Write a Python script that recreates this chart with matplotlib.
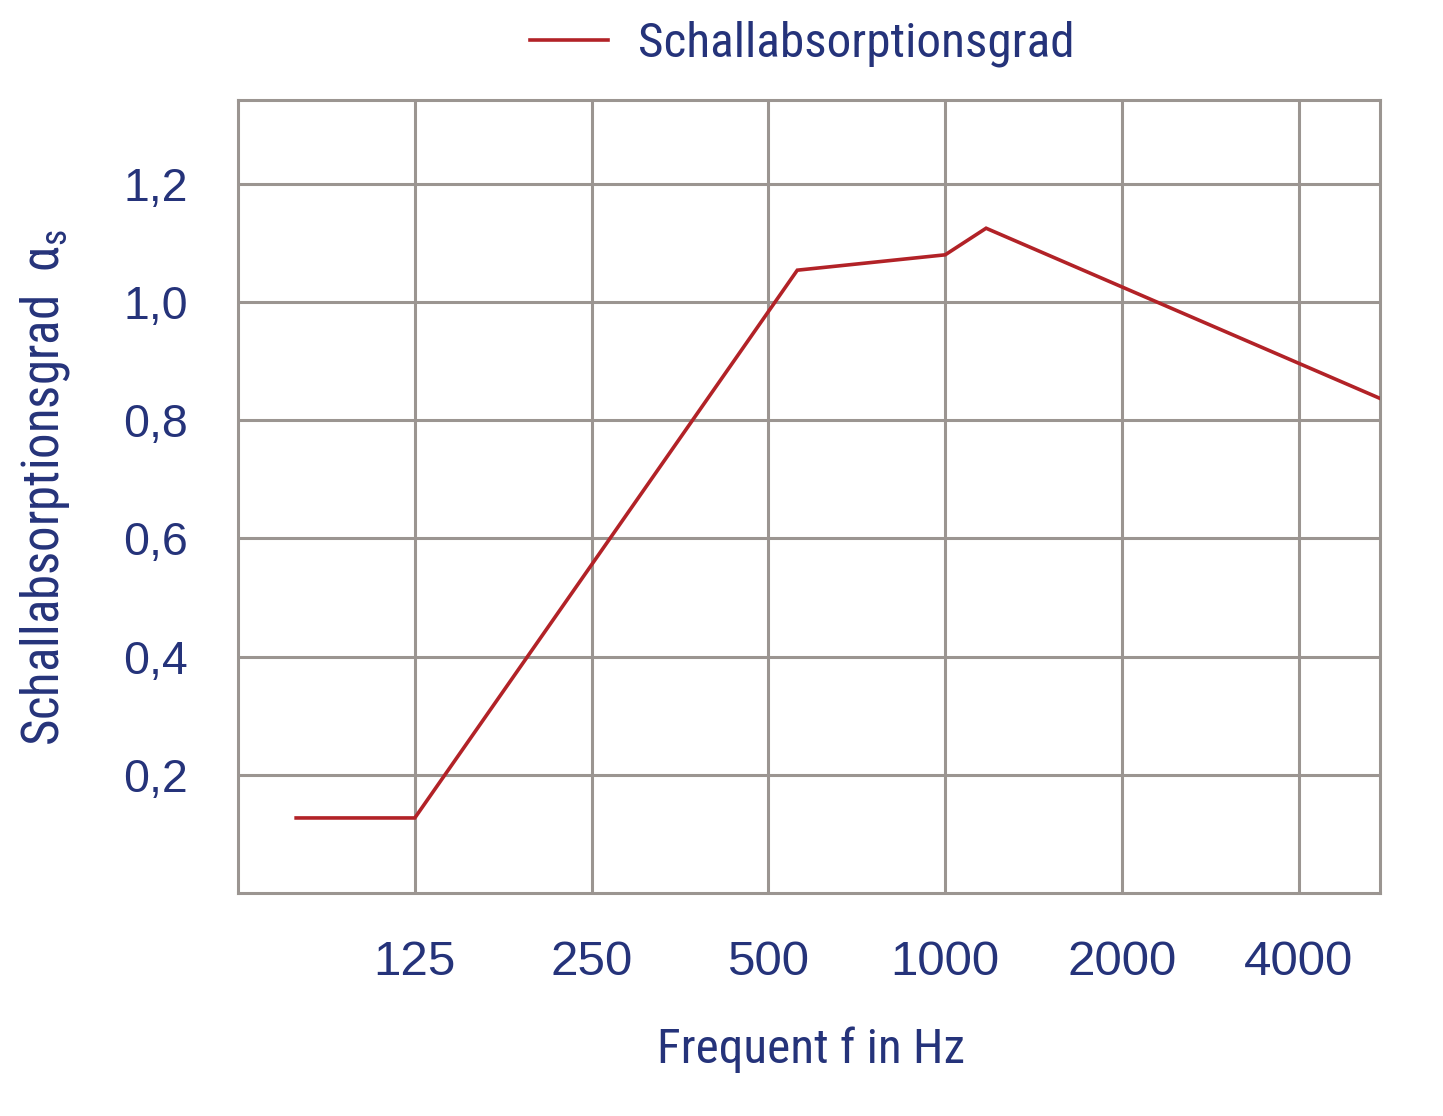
import matplotlib
matplotlib.use("Agg")
import matplotlib.pyplot as plt
from matplotlib import font_manager
from matplotlib.font_manager import FontProperties

# ---- data ----
freq_ticks = [125, 250, 500, 1000, 2000, 4000]
freq_tick_labels = ["125", "250", "500", "1000", "2000", "4000"]
y_ticks = [0.2, 0.4, 0.6, 0.8, 1.0, 1.2]
y_tick_labels = ["0,2", "0,4", "0,6", "0,8", "1,0", "1,2"]

curve_freq = [78.5, 125, 560, 1000, 1174, 5500]
curve_alpha = [0.127, 0.127, 1.054, 1.080, 1.125, 0.837]

series_name = "Schallabsorptionsgrad"
x_label = "Frequent f in Hz"
y_label = r"Schallabsorptionsgrad  $\mathregular{\alpha_s}$"

# ---- style ----
navy = "#25337a"
red = "#b22227"
gray = "#9b9591"
W, H = 1443, 1116


def find_condensed():
    pref = []
    for f in font_manager.fontManager.ttflist:
        st = f.stretch
        cond = ("Narrow" in f.name or "Condensed" in f.name or
                st in ("condensed", "semi-condensed", "extra-condensed", "ultra-condensed") or
                (isinstance(st, int) and st < 500))
        w = f.weight
        normal_w = w in (400, "normal", "regular", "book") or (isinstance(w, int) and 350 <= w <= 450)
        if cond and normal_w and f.style == "normal" and "Mono" not in f.name:
            pref.append(f)
    order = ["Liberation Sans Narrow", "Roboto Condensed", "Open Sans Condensed",
             "Noto Sans", "DejaVu Sans"]
    pref.sort(key=lambda f: next((i for i, n in enumerate(order) if n in f.name), 99))
    if pref:
        return FontProperties(fname=pref[0].fname)
    return FontProperties(family="Liberation Sans")


cond_prop = find_condensed()
reg_family = "Liberation Sans"

fig = plt.figure(figsize=(W / 100, H / 100), dpi=100)
renderer = fig.canvas.get_renderer()


def fit_size(text, target_w):
    t = fig.text(0, 0, text, fontproperties=cond_prop, size=100)
    w = t.get_window_extent(renderer).width
    t.remove()
    return 100 * target_w / w


ax = fig.add_axes([238 / W, 1 - 893 / H, (1380 - 238) / W, (893 - 100) / H])

line, = ax.plot(curve_freq, curve_alpha, color=red, lw=2.6, solid_joinstyle="miter",
                label=series_name, zorder=3)

ax.set_xscale("log", base=2)
ax.set_xlim(62.5, 5500)
ax.set_ylim(0, 1.342)

ax.set_xticks(freq_ticks)
ax.set_xticklabels(freq_tick_labels)
ax.minorticks_off()
ax.set_yticks(y_ticks)
ax.set_yticklabels(y_tick_labels)

ax.tick_params(axis="both", length=0, labelcolor=navy)
ax.tick_params(axis="x", pad=34, labelsize=35.5)
ax.tick_params(axis="y", pad=36, labelsize=33.5)
for lab in ax.get_xticklabels() + ax.get_yticklabels():
    lab.set_fontfamily(reg_family)

ax.grid(True, color=gray, lw=2.2)
for s in ax.spines.values():
    s.set_color(gray)
    s.set_linewidth(2.2)

# axis labels (condensed face, sized to the reference widths)
xs = fit_size(x_label, 308)
fig.text(811 / W, 1 - 1050 / H, x_label, fontproperties=cond_prop, size=xs,
         color=navy, ha="center", va="center")
ys = fit_size(y_label, 515)
fig.text(45 / W, 1 - 488 / H, y_label, fontproperties=cond_prop, size=ys,
         color=navy, ha="center", va="center", rotation=90)

ls = fit_size(series_name, 437)
leg_prop = cond_prop.copy()
leg_prop.set_size(ls)
em_px = ls * 100 / 72
leg = fig.legend(handles=[line], loc="center", bbox_to_anchor=(802.5 / W, 1 - 44 / H),
                 frameon=False, prop=leg_prop, handlelength=78 / em_px,
                 handletextpad=30 / em_px, borderpad=0, borderaxespad=0)
for t in leg.get_texts():
    t.set_color(navy)
leg.get_lines()[0].set_linewidth(2.6)

fig.savefig("out.png", dpi=100)
